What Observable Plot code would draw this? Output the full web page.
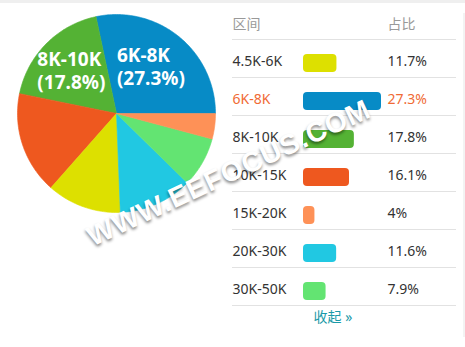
<!DOCTYPE html>
<html><head><meta charset="utf-8">
<script src="https://cdn.jsdelivr.net/npm/d3@7"></script>
<script src="https://cdn.jsdelivr.net/npm/@observablehq/plot@0.6"></script>
<style>
html,body{margin:0;padding:0;background:#fff;}
#page{position:relative;width:465px;height:347px;overflow:hidden;background:#fff;font-family:"Noto Sans","Noto Sans CJK SC",sans-serif;}
#topbar{position:absolute;left:0;top:0;width:465px;height:3px;background:#efefef;}
#rightbar{position:absolute;left:463px;top:13px;width:2px;height:324px;background:#f3f3f3;}
#pie{position:absolute;left:0;top:0;}
#table{position:absolute;left:220px;top:0;}
#wm{position:absolute;left:229px;top:173px;transform:translate(-50%,-50%) rotate(-25deg);white-space:nowrap;
  font-family:"Liberation Sans",Arial,sans-serif;font-weight:bold;font-size:28px;letter-spacing:1px;color:#fff;
  text-shadow:-1px 2px 3px rgba(0,0,0,0.45);pointer-events:none;}
svg text{font-family:"Noto Sans","Noto Sans CJK SC",sans-serif;}
</style></head>
<body><div id="page"><div id="topbar"></div><div id="rightbar"></div><div id="pie"></div><div id="table"></div><div id="wm"></div></div>
<script>
// ---- data ----
const categories = ["4.5K-6K","6K-8K","8K-10K","10K-15K","15K-20K","20K-30K","30K-50K"];
const shares = [11.7, 27.3, 17.8, 16.1, 4, 11.6, 7.9];
const colors = ["#dde000","#078bc6","#54b234","#ee581f","#fe9157","#21c8e2","#63e472"];
const pieOrder = ["6K-8K","8K-10K","10K-15K","4.5K-6K","20K-30K","30K-50K","15K-20K"];
const pieLabelled = ["6K-8K","8K-10K"];
const headers = ["区间","占比"];
const highlighted = "6K-8K";
const collapseText = "收起 »";
const watermark = "WWW.EEFOCUS.COM";

const share = new Map(categories.map((c,i)=>[c,shares[i]]));
const fmt = v => v + "%";
const colorScale = {domain: categories, range: colors};

// ---- pie geometry (d3.pie, counterclockwise from 3 o'clock) ----
const arcs = d3.pie().sort(null).value(d=>share.get(d))
  .startAngle(Math.PI/2).endAngle(Math.PI/2 - 2*Math.PI)(pieOrder);
const pts = [];
for (const a of arcs) {
  const n = Math.max(2, Math.ceil(Math.abs(a.endAngle - a.startAngle) / (Math.PI/180)));
  pts.push({key:a.data, x:0, y:0});
  for (let i=0;i<=n;i++){
    const t = a.startAngle + (a.endAngle - a.startAngle)*i/n;
    pts.push({key:a.data, x:Math.sin(t), y:Math.cos(t)});
  }
  pts.push({key:a.data, x:0, y:0});
}
const labels = arcs.filter(a=>pieLabelled.includes(a.data)).map(a=>{
  const m = (a.startAngle + a.endAngle)/2;
  return {key:a.data, x:0.6*Math.sin(m), y:0.6*Math.cos(m), name:a.data, pct:"(" + fmt(share.get(a.data)) + ")"};
});

const labelStyle = {x:"x", y:"y", fill:"white", fontWeight:"bold", fontSize:19, textAnchor:"start", dx:-37};
const pie = Plot.plot({
  width: 232, height: 230, margin: 0,
  x: {domain:[-1,1], range:[17,215], axis:null},
  y: {domain:[-1,1], range:[212,14], axis:null},
  color: colorScale,
  marks: [
    Plot.line(pts, {x:"x", y:"y", z:"key", fill:"key", stroke:"key", strokeWidth:0.6, curve:"linear"}),
    Plot.text(labels, {...labelStyle, text:"name", dy:-11.5}),
    Plot.text(labels, {...labelStyle, text:"pct", dy:11.5})
  ]
});
document.getElementById("pie").appendChild(pie);

// ---- table ----
const others = categories.filter(c=>c!==highlighted);
const table = Plot.plot({
  width: 245, height: 347, margin: 0,
  x: {domain:[0, d3.max(shares)], range:[83,161], axis:null},
  y: {type:"band", domain:categories, range:[39,305], padding:0, axis:null},
  color: colorScale,
  marks: [
    Plot.ruleY([categories[0]], {y:d=>d, dy:-19, insetLeft:12, insetRight:9, stroke:"#e2e2e2"}),
    Plot.ruleY(categories, {y:d=>d, dy:19, insetLeft:12, insetRight:9, stroke:"#e2e2e2"}),
    Plot.barX(categories, {x:d=>share.get(d), y:d=>d, fill:d=>d, insetTop:15, insetBottom:5, rx:4}),
    Plot.text(others, {y:d=>d, text:d=>d, frameAnchor:"left", dx:12, dy:3, textAnchor:"start", fill:"#333", fontSize:14}),
    Plot.text([highlighted], {y:d=>d, text:d=>d, frameAnchor:"left", dx:12, dy:3, textAnchor:"start", fill:"#f06a35", fontSize:14}),
    Plot.text(others, {y:d=>d, text:d=>fmt(share.get(d)), frameAnchor:"left", dx:167, dy:3, textAnchor:"start", fill:"#333", fontSize:14}),
    Plot.text([highlighted], {y:d=>d, text:d=>fmt(share.get(d)), frameAnchor:"left", dx:167, dy:3, textAnchor:"start", fill:"#f06a35", fontSize:14}),
    Plot.text([headers[0]], {text:d=>d, frameAnchor:"top-left", dx:12, dy:24, textAnchor:"start", lineAnchor:"middle", fill:"#999", fontSize:14}),
    Plot.text([headers[1]], {text:d=>d, frameAnchor:"top-left", dx:167, dy:24, textAnchor:"start", lineAnchor:"middle", fill:"#999", fontSize:14}),
    Plot.text([collapseText], {text:d=>d, frameAnchor:"top-left", dx:93, dy:317, textAnchor:"start", lineAnchor:"middle", fill:"#1b9aa8", fontSize:14})
  ]
});
document.getElementById("table").appendChild(table);
document.getElementById("wm").textContent = watermark;
</script></body></html>
